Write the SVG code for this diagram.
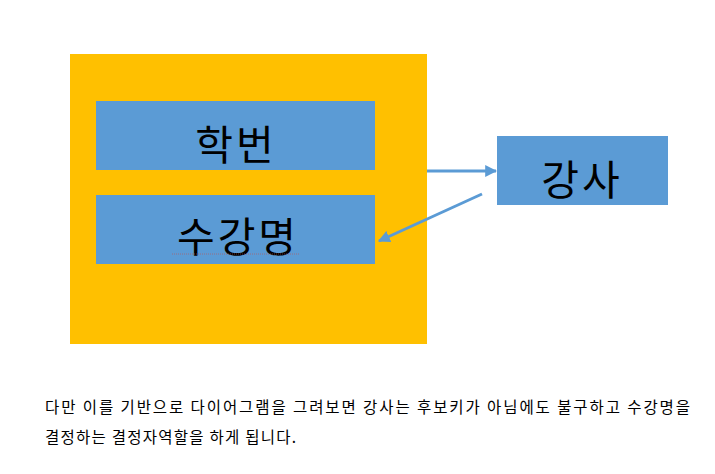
<svg xmlns="http://www.w3.org/2000/svg" width="715" height="474" viewBox="0 0 715 474">
<style>
.box{fill:#5B9BD5;}
.big{font-family:"Noto Sans CJK KR","Noto Sans",sans-serif;font-size:41px;fill:#000;text-anchor:middle;letter-spacing:3px;}
.body{font-family:"Noto Sans CJK KR","Noto Sans",sans-serif;font-size:15.5px;fill:#000;}
.conn{stroke:#5B9BD5;stroke-width:3;fill:none;}
</style>
<defs>
<marker id="ah" viewBox="0 0 10 10" refX="9" refY="5" markerWidth="4" markerHeight="4" orient="auto" markerUnits="strokeWidth">
<path d="M0,0 L10,5 L0,10 z" fill="#5B9BD5"/>
</marker>
</defs>
<rect width="715" height="474" fill="#fff"/>
<g id="table">
<rect x="70" y="54" width="357" height="290" fill="#FFC000"/>
</g>
<g id="n-hakbeon">
<rect class="box" x="96" y="101" width="279" height="69"/>
<text class="big" x="236" y="160">학번</text>
</g>
<g id="n-sugangmyeong">
<rect class="box" x="96" y="195" width="279" height="69"/>
<text class="big" x="238" y="252">수강명</text>
<line x1="172" y1="254" x2="300" y2="254" stroke="#C0504D" stroke-width="1" stroke-dasharray="1,1" opacity="0.6"/>
</g>
<g id="n-gangsa">
<rect class="box" x="497" y="136" width="171" height="69"/>
<text class="big" x="582" y="195">강사</text>
</g>
<g id="connectors">
<line class="conn" x1="427" y1="171" x2="496" y2="171" marker-end="url(#ah)"/>
<line class="conn" x1="482" y1="194" x2="379" y2="241" marker-end="url(#ah)"/>
</g>
<text class="body" x="45" y="413" textLength="645" lengthAdjust="spacing">다만 이를 기반으로 다이어그램을 그려보면 강사는 후보키가 아님에도 불구하고 수강명을</text>
<text class="body" x="45" y="443" textLength="251" lengthAdjust="spacing">결정하는 결정자역할을 하게 됩니다.</text>
</svg>
